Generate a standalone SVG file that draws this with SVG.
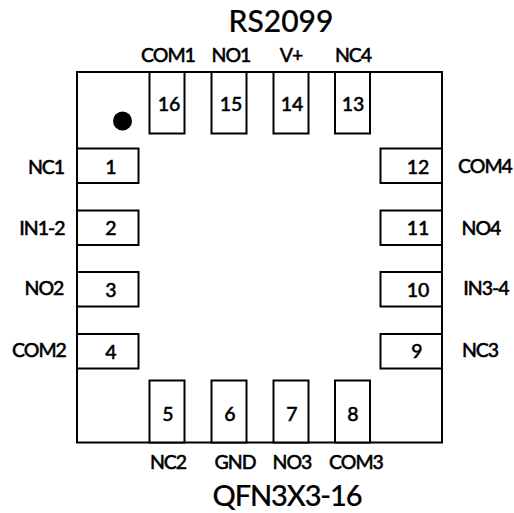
<svg xmlns="http://www.w3.org/2000/svg" width="514" height="513" viewBox="0 0 514 513">
<style>
.b{fill:#fff;stroke:#000;stroke-width:2}
text{font-family:Lato,"Liberation Sans",sans-serif;font-weight:500;fill:#000;text-anchor:middle;stroke:#000}
.n{font-size:19.500px;stroke-width:.45}
.l{font-size:19.500px;letter-spacing:-1px;stroke-width:.45}
.t{font-size:30px;stroke-width:.2}
.q{font-size:29px;letter-spacing:-1.100px;stroke-width:.2}
</style>
<rect width="514" height="513" fill="#fff"/>
<g id="package">
<rect class="b" x="77" y="72" width="365" height="370.500"/>
<circle cx="122.500" cy="121" r="9.500" fill="#000"/>
<text class="t" x="281" y="32">RS2099</text>
<text class="q" x="287" y="506">QFN3X3-16</text>
</g>
<g id="pin1"><rect class="b" x="77" y="148.500" width="61.500" height="34.500"/><text class="n" x="111" y="174">1</text><text class="l" x="46" y="174">NC1</text></g>
<g id="pin2"><rect class="b" x="77" y="210.500" width="61.500" height="34.500"/><text class="n" x="111" y="235">2</text><text class="l" x="42" y="235">IN1-2</text></g>
<g id="pin3"><rect class="b" x="77" y="272" width="61.500" height="34.500"/><text class="n" x="111" y="297">3</text><text class="l" x="44" y="295">NO2</text></g>
<g id="pin4"><rect class="b" x="77" y="334" width="61.500" height="34.500"/><text class="n" x="111" y="359">4</text><text class="l" x="39" y="357">COM2</text></g>
<g id="pin5"><rect class="b" x="149.500" y="380.500" width="35" height="62"/><text class="n" x="168" y="421">5</text><text class="l" x="168" y="469">NC2</text></g>
<g id="pin6"><rect class="b" x="211.500" y="380.500" width="35" height="62"/><text class="n" x="230" y="421">6</text><text class="l" x="235" y="469">GND</text></g>
<g id="pin7"><rect class="b" x="273.500" y="380.500" width="35" height="62"/><text class="n" x="292" y="421">7</text><text class="l" x="292" y="469">NO3</text></g>
<g id="pin8"><rect class="b" x="335" y="380.500" width="35" height="62"/><text class="n" x="353" y="421">8</text><text class="l" x="356" y="469">COM3</text></g>
<g id="pin9"><rect class="b" x="380.500" y="334" width="61.500" height="34.500"/><text class="n" x="417" y="358">9</text><text class="l" x="480" y="357">NC3</text></g>
<g id="pin10"><rect class="b" x="380.500" y="272" width="61.500" height="34.500"/><text class="n" x="418" y="297">10</text><text class="l" x="486" y="295">IN3-4</text></g>
<g id="pin11"><rect class="b" x="380.500" y="210.500" width="61.500" height="34.500"/><text class="n" x="418" y="235">11</text><text class="l" x="481" y="235">NO4</text></g>
<g id="pin12"><rect class="b" x="380.500" y="148.500" width="61.500" height="34.500"/><text class="n" x="418" y="174">12</text><text class="l" x="485" y="173">COM4</text></g>
<g id="pin13"><rect class="b" x="335" y="72" width="35" height="61.500"/><text class="n" x="353" y="111">13</text><text class="l" x="353" y="62">NC4</text></g>
<g id="pin14"><rect class="b" x="273.500" y="72" width="35" height="61.500"/><text class="n" x="292" y="111">14</text><text class="l" x="291" y="62">V+</text></g>
<g id="pin15"><rect class="b" x="211.500" y="72" width="35" height="61.500"/><text class="n" x="231" y="111">15</text><text class="l" x="231" y="62">NO1</text></g>
<g id="pin16"><rect class="b" x="149.500" y="72" width="35" height="61.500"/><text class="n" x="169" y="111">16</text><text class="l" x="168" y="62">COM1</text></g>
<g id="connectors"></g>
</svg>
